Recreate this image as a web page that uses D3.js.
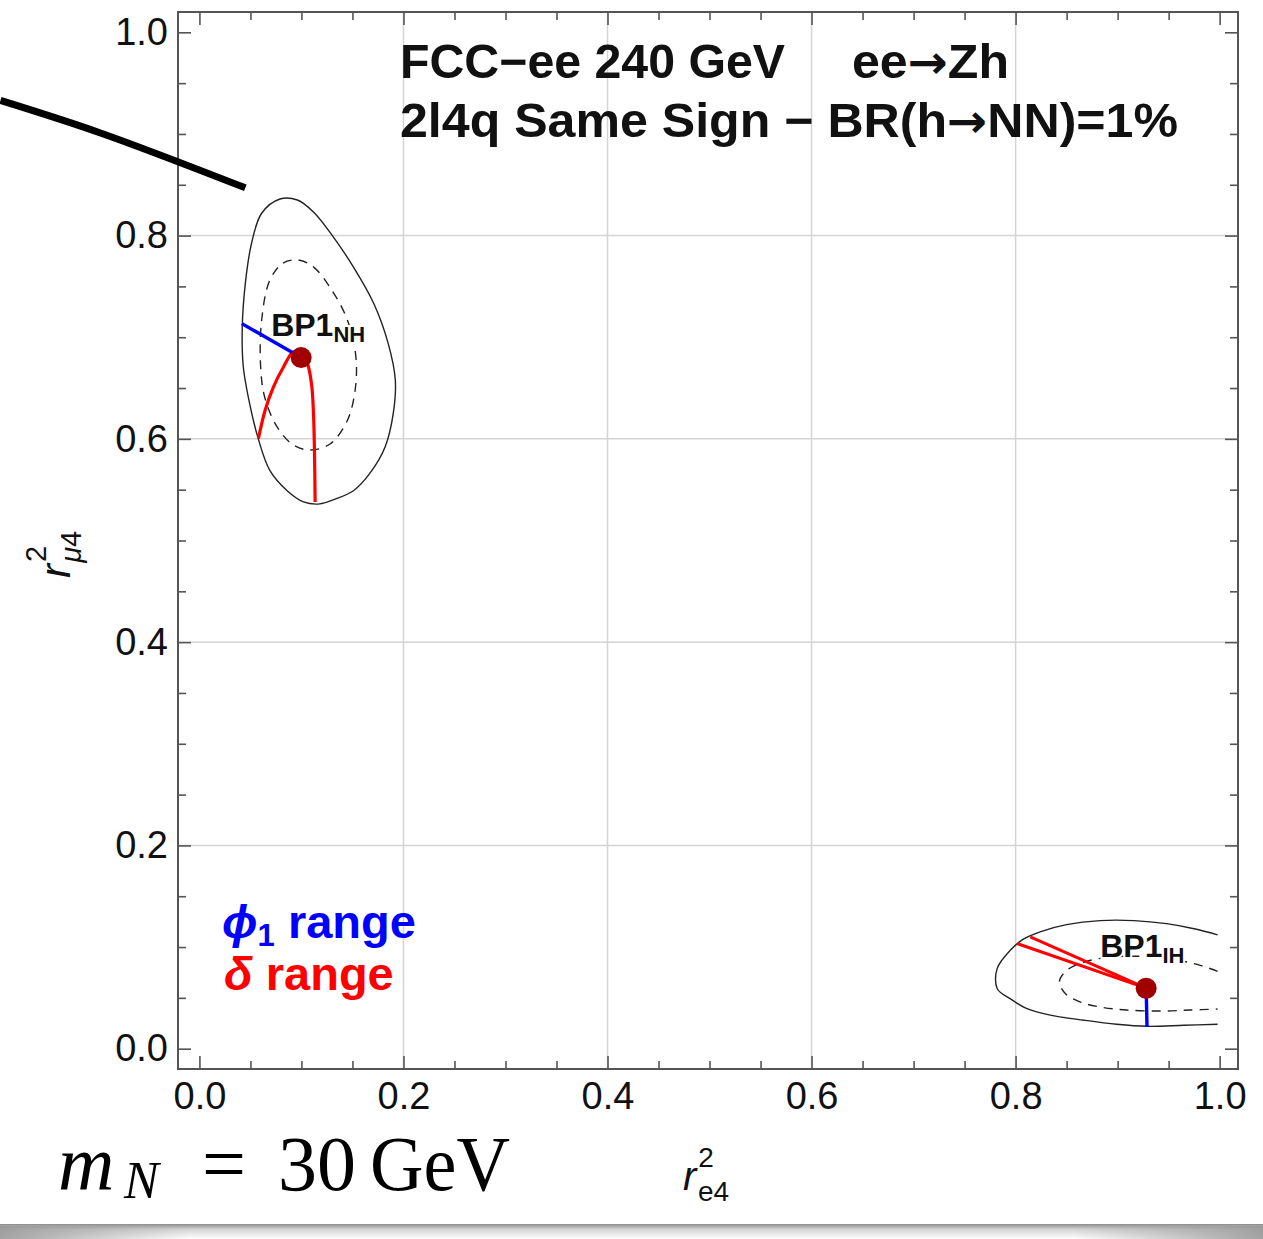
<!DOCTYPE html>
<html>
<head>
<meta charset="utf-8">
<script src="https://cdn.jsdelivr.net/npm/d3@7"></script>
<style>
  body { margin: 0; background: #fff; }
  svg text { font-family: "Liberation Sans", Arial, Helvetica, sans-serif; }
</style>
</head>
<body>
<svg id="chart" width="1263" height="1239"></svg>
<script>

/**
 * Data
 */
var xMajorTicks = [0.0, 0.2, 0.4, 0.6, 0.8, 1.0];
var yMajorTicks = [0.0, 0.2, 0.4, 0.6, 0.8, 1.0];
var tickLabels  = ['0.0', '0.2', '0.4', '0.6', '0.8', '1.0'];
var gridValues  = [0.2, 0.4, 0.6, 0.8];

var benchmarks = [
  { name: 'BP1', sub: 'NH', x: 0.0997, y: 0.680 },
  { name: 'BP1', sub: 'IH', x: 0.928,  y: 0.0595 }
];

// BP1 NH : outer (solid) and inner (dashed) regions
var nhOuter = [
  [0.061, 0.822], [0.079, 0.836], [0.096, 0.835], [0.112, 0.823], [0.131, 0.799],
  [0.151, 0.769], [0.171, 0.733], [0.185, 0.694], [0.192, 0.658], [0.190, 0.625],
  [0.182, 0.592], [0.167, 0.566], [0.151, 0.549], [0.131, 0.540], [0.118, 0.536],
  [0.102, 0.538], [0.086, 0.549], [0.069, 0.569], [0.058, 0.599], [0.050, 0.631],
  [0.043, 0.671], [0.042, 0.710], [0.045, 0.753], [0.051, 0.792]
];
var nhInner = [
  [0.069, 0.756], [0.082, 0.773], [0.097, 0.776], [0.112, 0.769], [0.130, 0.746],
  [0.145, 0.717], [0.153, 0.684], [0.153, 0.651], [0.145, 0.618], [0.128, 0.595],
  [0.109, 0.589], [0.092, 0.594], [0.076, 0.612], [0.064, 0.641], [0.060, 0.671],
  [0.061, 0.717]
];
var nhPhiRange = [[0.0416, 0.7134], [0.0997, 0.680]];
var nhDeltaRangeA = [[0.0997, 0.680], [0.0922, 0.6855], [0.0824, 0.6707], [0.0725, 0.651], [0.0644, 0.6281], [0.0578, 0.6003]];
var nhDeltaRangeB = [[0.0997, 0.680], [0.102, 0.684], [0.1069, 0.6707], [0.1102, 0.6511], [0.1118, 0.6249], [0.1127, 0.592], [0.1134, 0.5379]];

// BP1 IH : regions are cut at r_e4 = 1
var ihOuter = [
  [0.998, 0.112], [0.975, 0.118], [0.948, 0.123], [0.916, 0.126], [0.883, 0.126],
  [0.850, 0.122], [0.824, 0.115], [0.808, 0.108], [0.795, 0.097], [0.782, 0.079],
  [0.782, 0.059], [0.795, 0.049], [0.810, 0.040], [0.834, 0.033], [0.867, 0.028],
  [0.899, 0.024], [0.929, 0.022], [0.965, 0.023], [0.998, 0.024]
];
var ihInner = [
  [0.998, 0.076], [0.981, 0.082], [0.948, 0.089], [0.916, 0.091], [0.890, 0.090],
  [0.867, 0.085], [0.850, 0.077], [0.843, 0.066], [0.849, 0.054], [0.863, 0.046],
  [0.883, 0.041], [0.909, 0.038], [0.942, 0.037], [0.971, 0.038], [0.998, 0.039]
];
var ihPhiRange = [[0.928, 0.0595], [0.9288, 0.0214]];
var ihDeltaRangeA = [[0.928, 0.0595], [0.8014, 0.1035]];
var ihDeltaRangeB = [[0.928, 0.0595], [0.8144, 0.1100]];

// pointer stroke coming in from the left margin
var pointerStroke = [[-0.195, 0.933], [-0.097, 0.901], [0.045, 0.847]];

// title pieces; arrows are split out so they can use a font with a full-size glyph
var titleLine1a = ['FCC\u2212ee 240 GeV'];
var titleLine1b = ['ee', '\u2192', 'Zh'];
var titleLine2  = ['2l4q Same Sign \u2212 BR(h', '\u2192', 'NN)=1%'];

/**
 * Setup
 */
var svg = d3.select('#chart');

var plot = { left: 178, right: 1238, top: 12, bottom: 1069 };

var x = d3.scaleLinear().domain([-0.021, 1.018]).range([plot.left, plot.right]);
var y = d3.scaleLinear().domain([-0.02, 1.02]).range([plot.bottom, plot.top]);

var minorTicks = d3.range(0, 1.0001, 0.05).filter(function (v) {
  return Math.abs(v * 5 - Math.round(v * 5)) > 1e-6;
});

var line = d3.line()
  .x(function (d) { return x(d[0]); })
  .y(function (d) { return y(d[1]); });

var smoothClosed = d3.line()
  .x(function (d) { return x(d[0]); })
  .y(function (d) { return y(d[1]); })
  .curve(d3.curveCatmullRomClosed.alpha(0.5));

var smoothOpen = d3.line()
  .x(function (d) { return x(d[0]); })
  .y(function (d) { return y(d[1]); })
  .curve(d3.curveCatmullRom.alpha(0.5));

/**
 * Grid
 */
var grid = svg.append('g').attr('class', 'grid');

grid.selectAll('line.gx')
  .data(gridValues)
  .enter().append('line')
  .attr('x1', function (d) { return x(d); })
  .attr('x2', function (d) { return x(d); })
  .attr('y1', plot.top)
  .attr('y2', plot.bottom)
  .attr('stroke', '#d4d4d4')
  .attr('stroke-width', 1.5);

grid.selectAll('line.gy')
  .data(gridValues)
  .enter().append('line')
  .attr('y1', function (d) { return y(d); })
  .attr('y2', function (d) { return y(d); })
  .attr('x1', plot.left)
  .attr('x2', plot.right)
  .attr('stroke', '#d4d4d4')
  .attr('stroke-width', 1.5);

/**
 * Regions
 */
var regions = svg.append('g').attr('class', 'regions')
  .attr('fill', 'none')
  .attr('stroke', '#222')
  .attr('stroke-width', 1.4);

regions.append('path').attr('d', smoothClosed(nhOuter));
regions.append('path').attr('d', smoothClosed(nhInner)).attr('stroke-dasharray', '9,7');
regions.append('path').attr('d', smoothOpen(ihOuter));
regions.append('path').attr('d', smoothOpen(ihInner)).attr('stroke-dasharray', '9,7');

/**
 * Parameter ranges
 */
var ranges = svg.append('g').attr('class', 'ranges').attr('fill', 'none');

[nhDeltaRangeA, nhDeltaRangeB].forEach(function (r) {
  ranges.append('path').attr('d', smoothOpen(r))
    .attr('stroke', '#ff0000').attr('stroke-width', 3.2);
});
[ihDeltaRangeA, ihDeltaRangeB].forEach(function (r) {
  ranges.append('path').attr('d', line(r))
    .attr('stroke', '#ff0000').attr('stroke-width', 3);
});
[nhPhiRange, ihPhiRange].forEach(function (r) {
  ranges.append('path').attr('d', line(r))
    .attr('stroke', '#0000ff').attr('stroke-width', 3.4);
});

/**
 * Benchmark points + labels
 */
var labelOffset = { NH: [-30, -22], IH: [-46, -31] };

var bp = svg.append('g').attr('class', 'benchmarks')
  .selectAll('g.bp')
  .data(benchmarks)
  .enter().append('g')
  .attr('class', 'bp');

bp.append('circle')
  .attr('cx', function (d) { return x(d.x); })
  .attr('cy', function (d) { return y(d.y); })
  .attr('r', 10.5)
  .attr('fill', '#a00000');

var bpText = bp.append('text')
  .attr('x', function (d) { return x(d.x) + labelOffset[d.sub][0]; })
  .attr('y', function (d) { return y(d.y) + labelOffset[d.sub][1]; })
  .attr('font-weight', 'bold')
  .attr('font-size', 32)
  .attr('fill', '#111')
  .attr('stroke', '#fff')
  .attr('stroke-width', 4)
  .attr('paint-order', 'stroke');

bpText.append('tspan').text(function (d) { return d.name; });
bpText.append('tspan')
  .attr('font-size', 22)
  .attr('dy', 6)
  .text(function (d) { return d.sub; });

/**
 * Frame & axes (ticks point inwards on all four sides)
 */
var axes = svg.append('g').attr('class', 'axes');

function styleAxis(g) {
  g.select('.domain').remove();
  g.selectAll('.tick line').attr('stroke', '#555').attr('stroke-width', 1.6);
  g.selectAll('.tick text')
    .attr('fill', '#111')
    .style('font-family', '"Liberation Sans", Arial, sans-serif')
    .style('font-size', '38px');
}

function fmt(d) { return tickLabels[xMajorTicks.indexOf(d)]; }

axes.append('g')
  .attr('transform', 'translate(0,' + plot.bottom + ')')
  .call(d3.axisBottom(x).tickValues(xMajorTicks).tickFormat(fmt).tickSizeInner(-13).tickSizeOuter(0).tickPadding(13))
  .call(styleAxis);
axes.append('g')
  .attr('transform', 'translate(0,' + plot.bottom + ')')
  .call(d3.axisBottom(x).tickValues(minorTicks).tickFormat('').tickSizeInner(-8).tickSizeOuter(0))
  .call(styleAxis);

axes.append('g')
  .attr('transform', 'translate(0,' + plot.top + ')')
  .call(d3.axisTop(x).tickValues(xMajorTicks).tickFormat('').tickSizeInner(-13).tickSizeOuter(0))
  .call(styleAxis);
axes.append('g')
  .attr('transform', 'translate(0,' + plot.top + ')')
  .call(d3.axisTop(x).tickValues(minorTicks).tickFormat('').tickSizeInner(-8).tickSizeOuter(0))
  .call(styleAxis);

axes.append('g')
  .attr('transform', 'translate(' + plot.left + ',0)')
  .call(d3.axisLeft(y).tickValues(yMajorTicks).tickFormat(fmt).tickSizeInner(-13).tickSizeOuter(0).tickPadding(10))
  .call(styleAxis);
axes.append('g')
  .attr('transform', 'translate(' + plot.left + ',0)')
  .call(d3.axisLeft(y).tickValues(minorTicks).tickFormat('').tickSizeInner(-8).tickSizeOuter(0))
  .call(styleAxis);

axes.append('g')
  .attr('transform', 'translate(' + plot.right + ',0)')
  .call(d3.axisRight(y).tickValues(yMajorTicks).tickFormat('').tickSizeInner(-13).tickSizeOuter(0))
  .call(styleAxis);
axes.append('g')
  .attr('transform', 'translate(' + plot.right + ',0)')
  .call(d3.axisRight(y).tickValues(minorTicks).tickFormat('').tickSizeInner(-8).tickSizeOuter(0))
  .call(styleAxis);

axes.append('rect')
  .attr('x', plot.left)
  .attr('y', plot.top)
  .attr('width', plot.right - plot.left)
  .attr('height', plot.bottom - plot.top)
  .attr('fill', 'none')
  .attr('stroke', '#555')
  .attr('stroke-width', 2);

/**
 * Axis titles
 */
var xTitle = svg.append('text')
  .attr('x', 683)
  .attr('y', 1190)
  .attr('font-size', 40)
  .attr('fill', '#111');
xTitle.append('tspan').attr('font-style', 'italic').text('r');
xTitle.append('tspan').attr('font-size', 28).attr('dx', 2).attr('dy', -23).text('2');
xTitle.append('tspan').attr('font-size', 28).attr('dx', -16).attr('dy', 34).text('e4');

var yTitle = svg.append('text')
  .attr('transform', 'translate(70,578) rotate(-90)')
  .attr('font-size', 42)
  .attr('fill', '#111');
yTitle.append('tspan').attr('font-style', 'italic').text('r');
yTitle.append('tspan').attr('font-size', 29).attr('dx', 2).attr('dy', -24).text('2');
yTitle.append('tspan').attr('font-size', 29).attr('font-style', 'italic').attr('dx', -17).attr('dy', 35).text('\u03bc');
yTitle.append('tspan').attr('font-size', 29).text('4');

/**
 * Title block
 */
var title = svg.append('g').attr('class', 'title')
  .attr('font-weight', 'bold')
  .attr('font-size', 48)
  .attr('fill', '#111');

function titleText(parts, px, py) {
  var t = title.append('text').attr('x', px).attr('y', py);
  parts.forEach(function (p) {
    var s = t.append('tspan').text(p);
    if (p === '\u2192') s.style('font-family', '"DejaVu Sans", sans-serif').attr('font-size', 46);
  });
  return t;
}

titleText(titleLine1a, 400, 78).attr('textLength', 385).attr('lengthAdjust', 'spacingAndGlyphs');
titleText(titleLine1b, 852, 78).attr('textLength', 157).attr('lengthAdjust', 'spacingAndGlyphs');
titleText(titleLine2, 400, 137).attr('textLength', 778).attr('lengthAdjust', 'spacingAndGlyphs');

/**
 * Legend (one text block, two lines)
 */
var legend = svg.append('text').attr('class', 'legend')
  .attr('font-weight', 'bold')
  .attr('font-size', 47)
  .attr('y', 938);

legend.append('tspan').attr('x', 222).attr('fill', '#0000ff').attr('font-style', 'italic').text('\u03d5');
legend.append('tspan').attr('fill', '#0000ff').attr('font-size', 31).attr('dy', 8).text('1');
legend.append('tspan').attr('fill', '#0000ff').attr('dy', -8).text(' range');
legend.append('tspan').attr('x', 224).attr('dy', 52).attr('fill', '#ff0000').attr('font-style', 'italic').text('\u03b4');
legend.append('tspan').attr('fill', '#ff0000').text(' range');

/**
 * Pointer stroke and mass note
 */
svg.append('path')
  .attr('d', smoothOpen(pointerStroke))
  .attr('fill', 'none')
  .attr('stroke', '#000')
  .attr('stroke-width', 7);

var note = svg.append('text')
  .attr('y', 1190)
  .attr('fill', '#000')
  .style('font-family', '"Liberation Serif", "Times New Roman", serif')
  .attr('font-size', 78);
note.append('tspan').attr('x', 58).attr('font-style', 'italic').text('m');
note.append('tspan').attr('x', 124).attr('dy', 8).attr('font-size', 52).attr('font-style', 'italic').text('N');
note.append('tspan').attr('x', 202).attr('dy', -8).text('=');
note.append('tspan').attr('x', 278).text('30');
note.append('tspan').attr('x', 370).attr('textLength', 140).attr('lengthAdjust', 'spacingAndGlyphs').text('GeV');

/**
 * Page shadow along the bottom edge
 */
var defs = svg.append('defs');
var shade = defs.append('linearGradient').attr('id', 'shade')
  .attr('x1', 0).attr('y1', 0).attr('x2', 0).attr('y2', 1);
shade.append('stop').attr('offset', '0%').attr('stop-color', '#8c8c8c');
shade.append('stop').attr('offset', '35%').attr('stop-color', '#d4d4d4');
shade.append('stop').attr('offset', '100%').attr('stop-color', '#ffffff');

var edge = defs.append('linearGradient').attr('id', 'edge')
  .attr('x1', 0).attr('y1', 0).attr('x2', 1).attr('y2', 0);
edge.append('stop').attr('offset', '0%').attr('stop-color', '#999').attr('stop-opacity', 0.9);
edge.append('stop').attr('offset', '15%').attr('stop-color', '#999').attr('stop-opacity', 0);
edge.append('stop').attr('offset', '85%').attr('stop-color', '#999').attr('stop-opacity', 0);
edge.append('stop').attr('offset', '100%').attr('stop-color', '#999').attr('stop-opacity', 0.9);

svg.append('rect').attr('x', 0).attr('y', 1224).attr('width', 1263).attr('height', 15).attr('fill', 'url(#shade)');
svg.append('rect').attr('x', 0).attr('y', 1226).attr('width', 1263).attr('height', 13).attr('fill', 'url(#edge)');

</script>
</body>
</html>
